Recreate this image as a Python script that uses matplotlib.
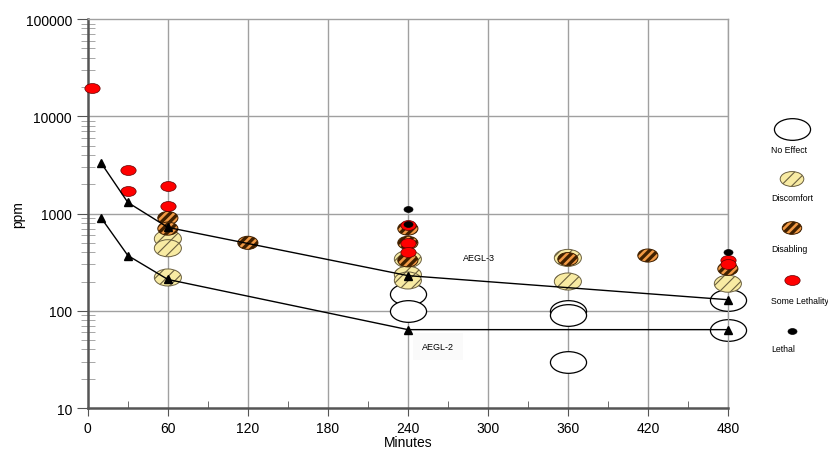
import numpy as np
import matplotlib
matplotlib.use("Agg")
import matplotlib.pyplot as plt
from matplotlib.path import Path
from matplotlib.transforms import Affine2D

plt.rcParams['font.family'] = ['Liberation Sans', 'DejaVu Sans']
plt.rcParams['hatch.linewidth'] = 1.6

# exposure data (minutes, ppm) by severity class
no_effect_x = [240, 240, 360, 360, 360, 480, 480]
no_effect_y = [150, 100, 100, 90, 30, 130, 63]

discomfort_x = [60, 60, 60, 240, 240, 240, 360, 360, 480]
discomfort_y = [550, 440, 220, 340, 235, 205, 350, 200, 190]

disabling_x = [60, 60, 120, 240, 240, 240, 360, 420, 480]
disabling_y = [900, 700, 500, 700, 500, 330, 340, 370, 270]

some_leth_x = [3, 30, 30, 60, 60, 240, 240, 240, 480, 480]
some_leth_y = [19500, 2800, 1700, 1900, 1200, 770, 500, 400, 330, 305]

lethal_x = [240, 240, 480]
lethal_y = [1120, 790, 400]

# AEGL values
aegl_x = [10, 30, 60, 240, 480]
aegl3 = [3300, 1300, 720, 230, 130]
aegl2 = [900, 370, 210, 64, 64]


def ellipse(aspect):
    p = Path.unit_circle()
    return p.transformed(Affine2D().scale(1, aspect))


def hatched(coll, color, lw):
    if hasattr(coll, 'set_hatch_color'):
        coll.set_hatch_color(color)
    if hasattr(coll, 'set_hatch_linewidth'):
        coll.set_hatch_linewidth(lw)
    return coll


styles = {
    'none': dict(s=26**2, marker=ellipse(0.6), facecolor='white', edgecolor='black', lw=0.9),
    'disc': dict(s=19.5**2, marker=ellipse(0.63), facecolor='#f8eba3', edgecolor='#6b6040', lw=0.7, hatch='///'),
    'disab': dict(s=14.5**2, marker=ellipse(0.65), facecolor='#f29a45', edgecolor='#402000', lw=0.7, hatch='////'),
    'some': dict(s=11**2, marker=ellipse(0.65), facecolor='#ff0000', edgecolor='#600000', lw=0.5),
    'leth': dict(s=6.5**2, marker=ellipse(0.65), facecolor='black', edgecolor='black', lw=0.5),
}
hatch_cfg = {'disc': ('#6b6040', 0.8), 'disab': ('black', 2.4)}


def draw(axis, key, xs, ys, z, **extra):
    kw = dict(styles[key])
    kw.update(extra)
    rc = {}
    if key in hatch_cfg:
        rc = {'hatch.color': hatch_cfg[key][0], 'hatch.linewidth': hatch_cfg[key][1]}
    with plt.rc_context(rc):
        c = axis.scatter(xs, ys, zorder=z, clip_on=False, **kw)
    if key in hatch_cfg:
        hatched(c, *hatch_cfg[key])
    return c


fig = plt.figure(figsize=(8.29, 4.56), dpi=100)
ax = fig.add_axes([0.106, 0.103, 0.772, 0.853])

grid_c = '#a0a0a0'
ax.set_yscale('log')
ax.set_xlim(0, 480)
ax.set_ylim(10, 100000)
for v in range(60, 481, 60):
    ax.axvline(v, color=grid_c, lw=1, zorder=0)
for v in [100, 1000, 10000]:
    ax.axhline(v, color=grid_c, lw=1, zorder=0)

# severity markers
draw(ax, 'none', no_effect_x, no_effect_y, 2)
draw(ax, 'disc', discomfort_x, discomfort_y, 3)
draw(ax, 'disab', disabling_x, disabling_y, 4)
draw(ax, 'some', some_leth_x, some_leth_y, 5)
draw(ax, 'leth', lethal_x, lethal_y, 6)

# AEGL lines
ax.plot(aegl_x, aegl3, color='black', lw=1, marker='^', ms=6, zorder=7, clip_on=False)
ax.plot(aegl_x, aegl2, color='black', lw=1, marker='^', ms=6, zorder=7, clip_on=False)
ax.text(0.586, 0.388, 'AEGL-3', transform=ax.transAxes, fontsize=6.5, ha='left', va='center')
ax.text(0.522, 0.157, 'AEGL-2', transform=ax.transAxes, fontsize=6.5, ha='left', va='center',
        bbox=dict(boxstyle='square,pad=1.0', facecolor='#fafafa', edgecolor='none'))

# axes styling
ax.set_xticks(range(0, 481, 60))
ax.set_xticks(range(30, 481, 60), minor=True)
ax.tick_params(axis='x', which='major', direction='out', length=6, color='#555555', labelsize=10)
ax.tick_params(axis='x', which='minor', direction='in', length=5, color='#555555')
ax.tick_params(axis='y', which='major', direction='out', length=8, color='#555555', labelsize=10)
ax.tick_params(axis='y', which='minor', direction='inout', length=10, color='#999999')
ax.yaxis.set_major_formatter(matplotlib.ticker.FuncFormatter(lambda v, p: '%d' % v))
ax.yaxis.set_minor_formatter(matplotlib.ticker.NullFormatter())
for s in ['left', 'bottom']:
    ax.spines[s].set_color('#555555')
    ax.spines[s].set_linewidth(1.8)
for s in ['top', 'right']:
    ax.spines[s].set_color(grid_c)
    ax.spines[s].set_linewidth(1)
ax.set_xlabel('Minutes', fontsize=10, labelpad=0)
ax.set_ylabel('ppm', fontsize=10, labelpad=0)

# legend on the right, drawn by hand
lx = 792 / 829
leg_items = [
    ('No Effect', 'none', 130, 151, {}),
    ('Discomfort', 'disc', 180, 199, dict(s=17**2)),
    ('Disabling', 'disab', 229, 250, dict(s=14**2)),
    ('Some Lethality', 'some', 281, 301, {}),
    ('Lethal', 'leth', 332, 350, {}),
]
lax = fig.add_axes([0, 0, 1, 1], facecolor='none')
lax.set_xlim(0, 1)
lax.set_ylim(0, 1)
lax.axis('off')
for label, key, my, ty, extra in leg_items:
    draw(lax, key, [lx], [1 - my / 456], 3, **extra)
    lax.text(771 / 829, 1 - ty / 456, label, fontsize=6.3, ha='left', va='center')

fig.savefig('out.png', dpi=100)
